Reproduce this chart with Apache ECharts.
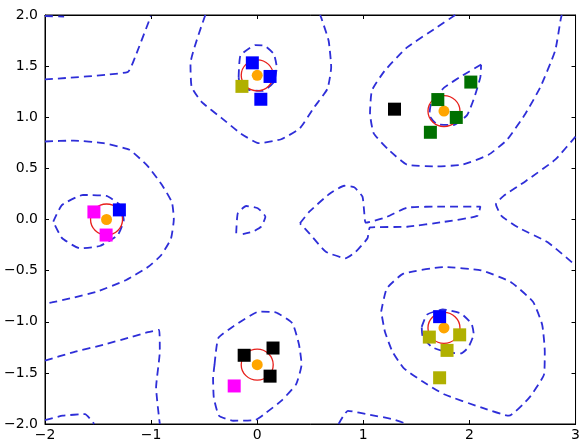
<!DOCTYPE html>
<html>
<head>
<meta charset="utf-8">
<script src="https://cdn.jsdelivr.net/npm/echarts@6/dist/echarts.min.js"></script>
<style>
html,body{margin:0;padding:0;background:#fff;}
#chart{width:583px;height:445px;}
</style>
</head>
<body>
<div id="chart"></div>
<script>
// ---- Data ----
const xTicks = [-2, -1, 0, 1, 2, 3];
const yTicks = [-2.0, -1.5, -1.0, -0.5, 0.0, 0.5, 1.0, 1.5, 2.0];

// cluster centres (orange dots, red circles)
const centers = [[0.0, 1.41], [1.76, 1.06], [-1.42, 0.0], [0.0, -1.42], [1.76, -1.06]];

// square markers by colour
const bluePts = [[-0.046, 1.532], [0.121, 1.399], [0.034, 1.176], [-1.299, 0.094], [1.719, -0.950]];
const olivePts = [[-0.144, 1.302], [1.622, -1.150], [1.908, -1.128], [1.789, -1.280], [1.719, -1.548]];
const greenPts = [[1.702, 1.173], [2.013, 1.344], [1.876, 0.998], [1.632, 0.853]];
const blackPts = [[1.294, 1.079], [-0.123, -1.328], [0.149, -1.257], [0.121, -1.532]];
const magentaPts = [[-1.539, 0.074], [-1.424, -0.152], [-0.217, -1.628]];

// dashed contour lines
const cTopLeft = [[-2, 1.37], [-1.222, 1.441], [-1.152, 1.586], [-1.002, 1.99]];
const cTopLeftCorner = [[-2, 1.99], [-1.82, 1.985]];
const cTopCenter = [[-0.489, 2.0], [-0.629, 1.522], [-0.618, 1.296], [-0.524, 1.150], [-0.332, 0.989], [-0.158, 0.843], [0.017, 0.746], [0.226, 0.785], [0.401, 0.892], [0.540, 1.102], [0.662, 1.279], [0.697, 1.490], [0.673, 1.748], [0.603, 1.974], [0.593, 2.0]];
const cTopCenterInner = [[-0.175, 1.393], [-0.158, 1.603], [-0.018, 1.706], [0.069, 1.700], [0.156, 1.619], [0.184, 1.489], [0.156, 1.344], [0.052, 1.257], [-0.088, 1.270], [-0.165, 1.328], [-0.175, 1.393]];
const cTopRight = [[1.866, 2.0], [1.691, 1.877], [1.412, 1.683], [1.203, 1.457], [1.081, 1.263], [1.063, 1.037], [1.098, 0.843], [1.238, 0.682], [1.412, 0.536], [1.691, 0.520], [1.936, 0.536], [2.180, 0.633], [2.354, 0.779], [2.529, 1.037], [2.669, 1.296], [2.808, 1.651], [2.860, 1.958], [2.87, 2.0]];
const cTopRightInner = [[2.110, 1.515], [1.936, 1.409], [1.761, 1.289], [1.639, 1.134], [1.622, 1.021], [1.691, 0.934], [1.849, 0.924], [1.978, 1.021], [2.048, 1.199], [2.103, 1.393], [2.110, 1.515]];
const cLeft = [[-2, 0.763], [-1.728, 0.772], [-1.449, 0.746], [-1.204, 0.682], [-1.030, 0.520], [-0.890, 0.326], [-0.803, 0.165], [-0.786, 0.003], [-0.814, -0.191], [-0.908, -0.352], [-1.030, -0.465], [-1.239, -0.594], [-1.518, -0.708], [-1.763, -0.772], [-1.937, -0.811], [-2, -0.821]];
const cLeftInner = [[-1.922, -0.021], [-1.840, 0.142], [-1.640, 0.240], [-1.420, 0.230], [-1.295, 0.142], [-1.258, -0.005], [-1.314, -0.152], [-1.483, -0.259], [-1.671, -0.282], [-1.840, -0.181], [-1.922, -0.021]];
const cCenterSmall = [[-0.198, -0.135], [-0.183, 0.061], [-0.104, 0.132], [0.005, 0.110], [0.077, 0.027], [0.037, -0.070], [-0.042, -0.119], [-0.136, -0.142]];
const cCenterLoop = [[0.403, -0.037], [0.491, 0.076], [0.679, 0.249], [0.820, 0.330], [0.914, 0.315], [0.992, 0.223], [1.008, 0.076], [1.023, -0.031], [1.212, 0.021], [1.412, 0.116], [1.761, 0.126], [2.103, 0.126], [2.075, 0.035], [1.761, -0.023], [1.412, -0.071], [1.063, -0.078], [1.039, -0.184], [0.929, -0.315], [0.835, -0.379], [0.647, -0.315], [0.491, -0.135], [0.403, -0.037]];
const cRight = [[3.0, 0.811], [2.808, 0.585], [2.529, 0.375], [2.320, 0.229], [2.250, 0.149], [2.302, 0.036], [2.459, -0.078], [2.738, -0.223], [3.0, -0.449]];
const cBottomRight = [[1.168, -0.901], [1.221, -0.675], [1.378, -0.530], [1.761, -0.465], [2.110, -0.498], [2.389, -0.611], [2.599, -0.805], [2.686, -1.031], [2.710, -1.289], [2.703, -1.515], [2.564, -1.742], [2.372, -1.919], [2.110, -1.838], [1.761, -1.709], [1.552, -1.580], [1.378, -1.451], [1.273, -1.289], [1.203, -1.095], [1.168, -0.901]];
const cBottomRightInner = [[1.55, -1.05], [1.60, -0.93], [1.75, -0.88], [1.92, -0.92], [2.02, -1.02], [2.04, -1.12], [1.99, -1.25], [1.92, -1.31], [1.80, -1.30], [1.65, -1.25], [1.56, -1.15], [1.55, -1.05]];
const cBottomCenter = [[-0.402, -1.418], [-0.367, -1.160], [-0.227, -1.047], [0.017, -0.901], [0.174, -0.908], [0.331, -1.014], [0.394, -1.225], [0.418, -1.418], [0.366, -1.612], [0.226, -1.774], [0.087, -1.887], [-0.018, -1.961], [-0.227, -1.968], [-0.360, -1.919], [-0.409, -1.742], [-0.416, -1.548], [-0.402, -1.418]];
const cBottomLeft = [[-2, -1.380], [-1.728, -1.296], [-1.449, -1.225], [-1.204, -1.154], [-1.030, -1.102], [-0.925, -1.079], [-0.918, -1.289], [-0.953, -1.645], [-0.918, -2.0]];
const cBottomLeftCorner = [[-2, -1.961], [-1.833, -1.919], [-1.623, -1.903], [-1.536, -2.0]];
const cBottomMid = [[0.767, -2.0], [0.854, -1.871], [1.063, -1.910], [1.273, -1.952], [1.412, -2.0]];

const contours = [cTopLeft, cTopLeftCorner, cTopCenter, cTopCenterInner, cTopRight, cTopRightInner, cLeft, cLeftInner, cCenterSmall, cCenterLoop, cRight, cBottomRight, cBottomRightInner, cBottomCenter, cBottomLeft, cBottomLeftCorner, cBottomMid];

// ---- Chart ----
const chart = echarts.init(document.getElementById('chart'), null, {renderer: 'canvas'});
const fontFamily = 'DejaVu Sans';
const minus = s => String(s).replace('-', '\u2212');

function axisCommon() {
  return {
    axisLine: {show: true, onZero: false, lineStyle: {color: '#000', width: 1}},
    axisTick: {show: true, inside: true, length: 4, lineStyle: {color: '#000'}},
    splitLine: {show: false}
  };
}

const series = [];
contours.forEach((c) => {
  series.push({
    type: 'line', data: c, showSymbol: false, symbol: 'none', smooth: 0.15,
    lineStyle: {color: '#2e2ed8', width: 1.8, type: [8, 5]},
    silent: true, z: 1, animation: false, clip: true
  });
});
series.push({
  type: 'scatter', data: centers, symbol: 'circle', symbolSize: [32, 31],
  itemStyle: {color: 'rgba(0,0,0,0)', borderColor: '#e8201c', borderWidth: 1.3, opacity: 1}, z: 2, animation: false
});
series.push({
  type: 'scatter', data: centers, symbol: 'circle', symbolSize: 11,
  itemStyle: {color: '#ffa500', opacity: 1}, z: 3, animation: false
});
const sq = [[bluePts, '#0000ff'], [olivePts, '#b0b000'], [greenPts, '#007000'], [blackPts, '#000000'], [magentaPts, '#ff00ff']];
sq.forEach(([d, col]) => {
  series.push({
    type: 'scatter', data: d, symbol: 'rect', symbolSize: 13,
    itemStyle: {color: col, opacity: 1}, z: 4, animation: false
  });
});

chart.setOption({
  animation: false,
  backgroundColor: '#fff',
  grid: {left: 45, right: 5, top: 15, bottom: 21, show: true, borderColor: '#000', borderWidth: 1, backgroundColor: 'transparent'},
  xAxis: [
    Object.assign(axisCommon(), {
      type: 'value', min: xTicks[0], max: xTicks[xTicks.length - 1], interval: 1,
      axisLabel: {color: '#000', fontFamily, fontSize: 14, margin: 4, formatter: v => minus(v)}
    }),
    Object.assign(axisCommon(), {
      type: 'value', position: 'top', min: xTicks[0], max: xTicks[xTicks.length - 1], interval: 1,
      axisLabel: {show: false}
    })
  ],
  yAxis: [
    Object.assign(axisCommon(), {
      type: 'value', min: yTicks[0], max: yTicks[yTicks.length - 1], interval: 0.5,
      axisLabel: {color: '#000', fontFamily, fontSize: 14, margin: 7, formatter: v => minus(v.toFixed(1))}
    }),
    Object.assign(axisCommon(), {
      type: 'value', position: 'right', min: yTicks[0], max: yTicks[yTicks.length - 1], interval: 0.5,
      axisLabel: {show: false}
    })
  ],
  series: series
});
</script>
</body>
</html>
